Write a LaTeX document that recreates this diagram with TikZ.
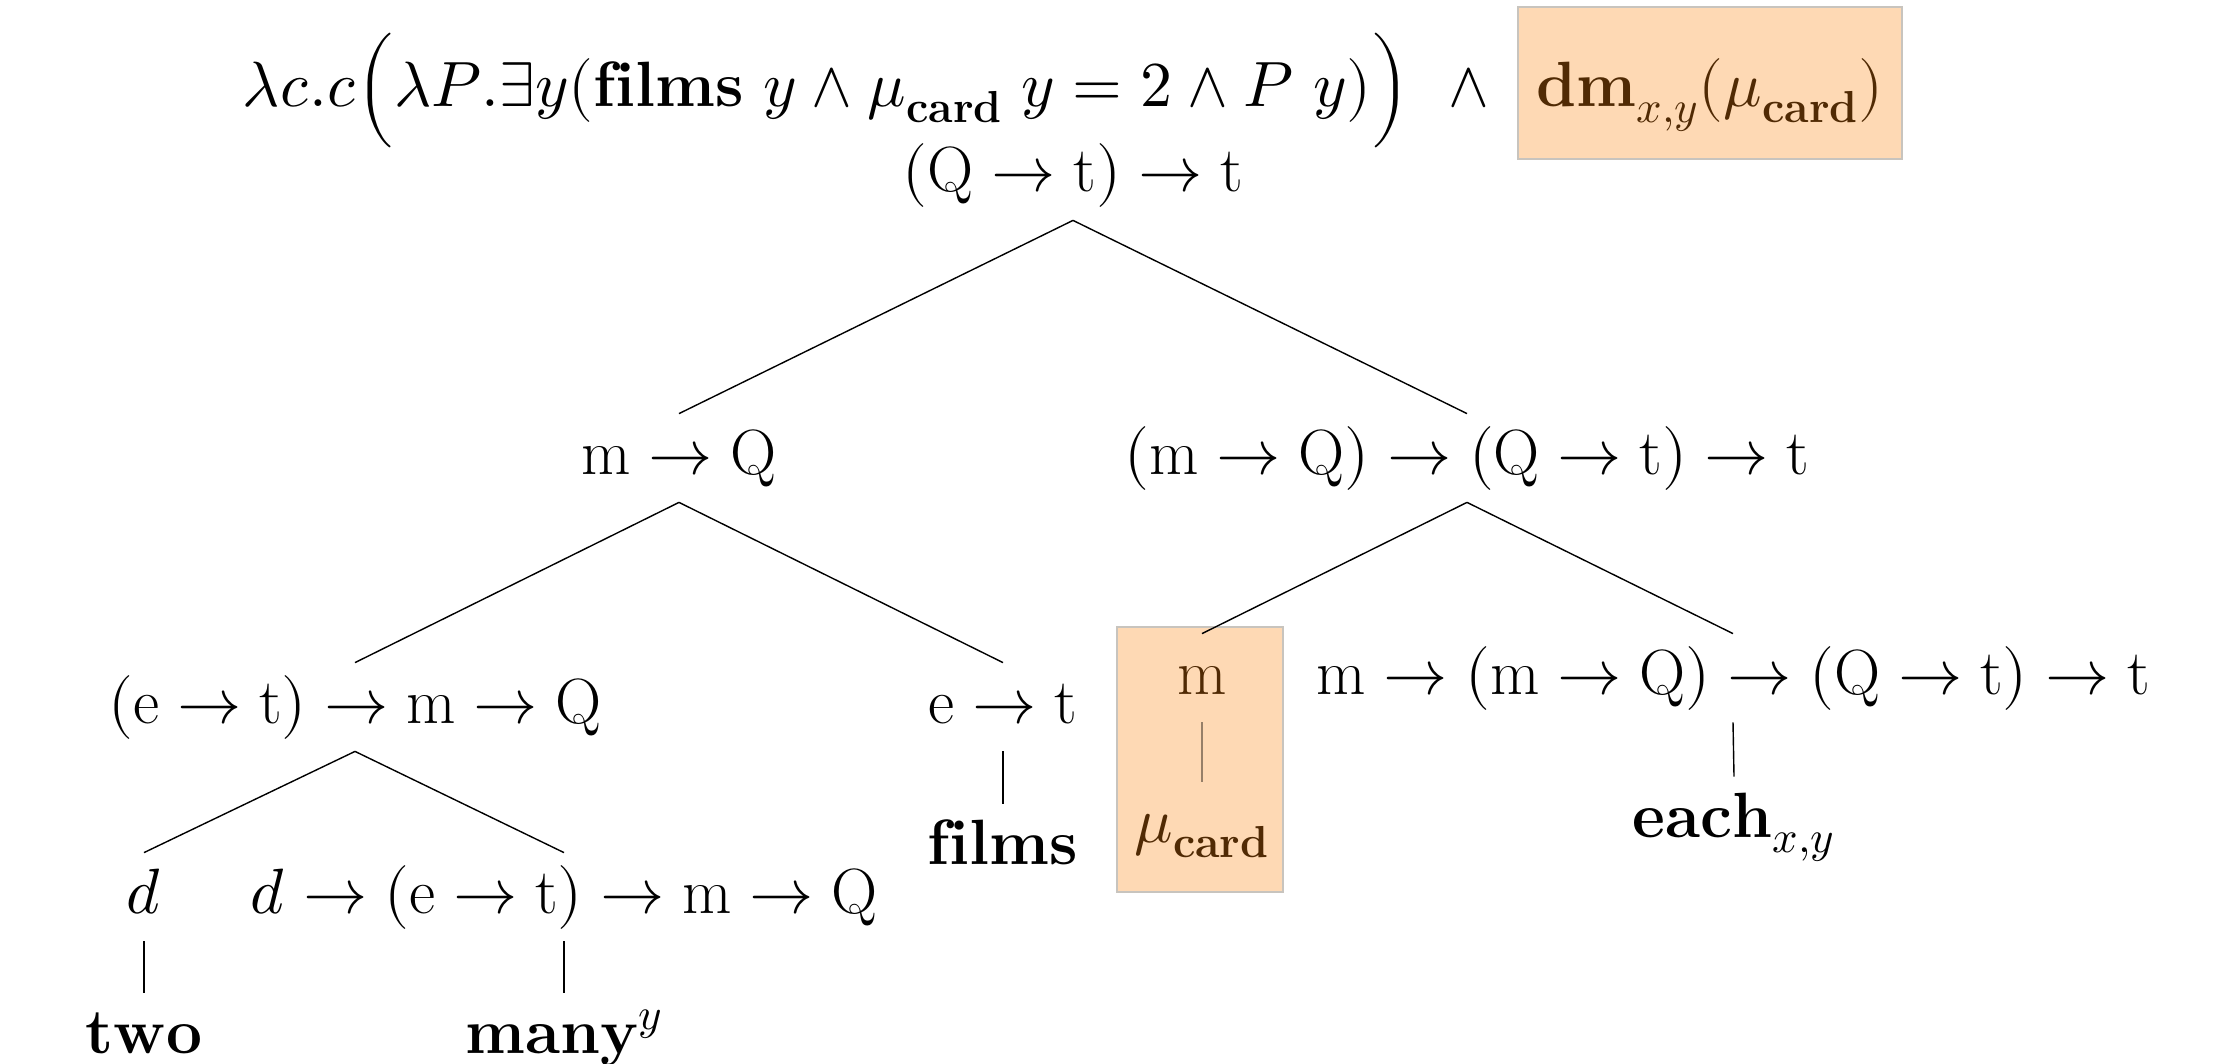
\documentclass[tikz,border=0pt]{standalone}
\usepackage{unicode-math}
\usetikzlibrary{positioning}
\definecolor{boxfill}{RGB}{254,217,180}
\definecolor{boxline}{RGB}{200,196,190}
\definecolor{boxtext}{RGB}{80,42,4}
\tikzset{
  lbl/.style={font=\fontsize{32}{38}\selectfont, inner xsep=0pt, inner ysep=6pt,
              text height=24pt, text depth=8pt, anchor=base},
  plain/.style={font=\fontsize{32}{38}\selectfont, inner sep=0pt, anchor=base},
  hibox/.style={fill=boxfill, draw=boxline, line width=0.6pt, inner sep=0pt},
  edge/.style={line width=0.7pt, black},
  boxedge/.style={line width=0.7pt, boxtext!60}
}
\begin{document}
\begin{tikzpicture}[x=0.5pt,y=-0.5pt]
\useasboundingbox (0,0) rectangle (2231,1064);
% highlight boxes
\node[hibox, minimum width=192pt, minimum height=76pt] (topbox) at (1710,83) {};
\node[hibox, minimum width=83pt, minimum height=132.5pt] (mbox) at (1200,759.5) {};
% top formula
\node[plain, text=boxtext] (dm) at (1710,107) {$\mathbf{dm}_{x,y}(\mu_{\mathbf{card}})$};
\node[plain, anchor=base east] (form) at (1491,107)
  {$\lambda c.c\Bigl(\lambda P.\exists y(\mathbf{films}\ y\wedge\mu_{\mathbf{card}}\ y=2\wedge P\ y)\Bigr)\ \ \wedge$};
% tree nodes
\node[lbl] (root) at (1073,192) {$(\mathrm{Q}\to\mathrm{t})\to\mathrm{t}$};
\node[lbl] (mq) at (679,474) {$\mathrm{m}\to\mathrm{Q}$};
\node[lbl] (big) at (1467,474) {$(\mathrm{m}\to\mathrm{Q})\to(\mathrm{Q}\to\mathrm{t})\to\mathrm{t}$};
\node[lbl] (etmq) at (355,723) {$(\mathrm{e}\to\mathrm{t})\to\mathrm{m}\to\mathrm{Q}$};
\node[lbl] (et) at (1003,723) {$\mathrm{e}\to\mathrm{t}$};
\node[lbl, text=boxtext] (m) at (1202,694) {$\mathrm{m}$};
\node[lbl] (mmq) at (1733,694) {$\mathrm{m}\to(\mathrm{m}\to\mathrm{Q})\to(\mathrm{Q}\to\mathrm{t})\to\mathrm{t}$};
\node[lbl] (d) at (144,913) {$d$};
\node[lbl] (dd) at (564,913) {$d\to(\mathrm{e}\to\mathrm{t})\to\mathrm{m}\to\mathrm{Q}$};
\node[lbl] (films) at (1003,864) {$\mathbf{films}$};
\node[lbl, text=boxtext] (mu) at (1202,842) {$\mu_{\mathbf{card}}$};
\node[lbl] (each) at (1734,837) {$\mathbf{each}_{x,y}$};
\node[lbl] (two) at (144,1053) {$\mathbf{two}$};
\node[lbl] (many) at (564,1053) {$\mathbf{many}^{y}$};
% connectors
\draw[edge] (root.south) -- (mq.north);
\draw[edge] (root.south) -- (big.north);
\draw[edge] (mq.south) -- (etmq.north);
\draw[edge] (mq.south) -- (et.north);
\draw[edge] (big.south) -- (m.north);
\draw[edge] (big.south) -- (mmq.north);
\draw[edge] (etmq.south) -- (d.north);
\draw[edge] (etmq.south) -- (dd.north);
\draw[edge] (d.south) -- (two.north);
\draw[edge] (dd.south) -- (many.north);
\draw[edge] (et.south) -- (films.north);
\draw[boxedge] (m.south) -- (mu.north);
\draw[edge] (mmq.south) -- (each.north);
\end{tikzpicture}
\end{document}
